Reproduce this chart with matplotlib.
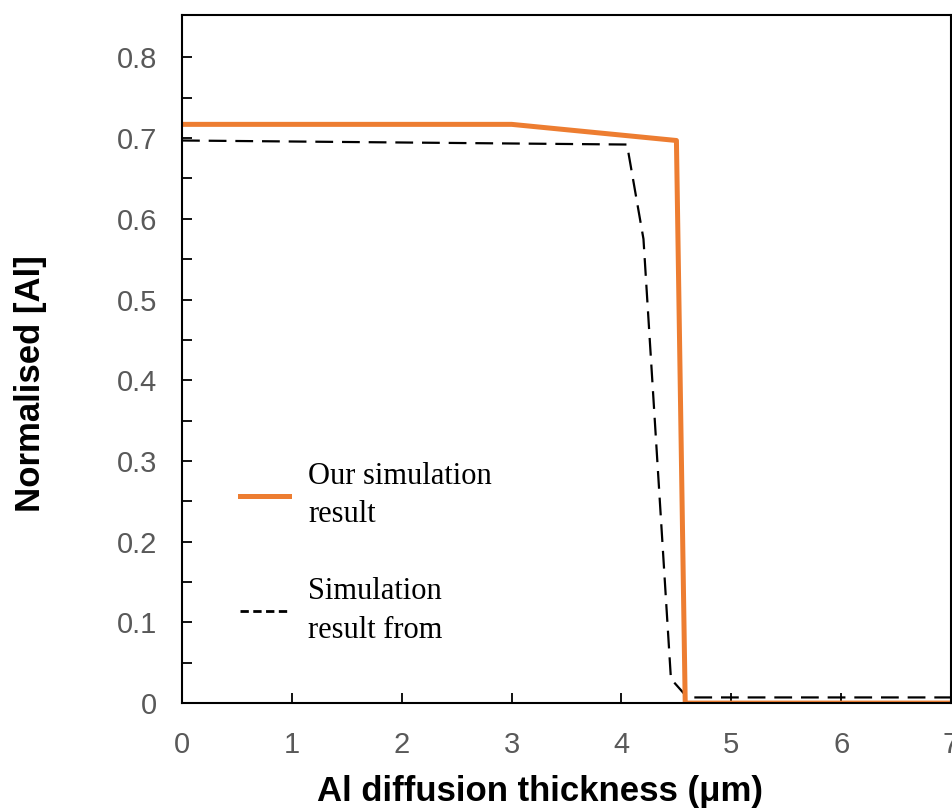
import numpy as np
import matplotlib
matplotlib.use('Agg')
import matplotlib.pyplot as plt
from matplotlib.ticker import FixedLocator, MultipleLocator
from matplotlib.lines import Line2D

# data
our_x = [0, 3.0, 4.5, 4.58, 7.0]
our_y = [0.717, 0.717, 0.697, 0.0, 0.0]

ref_x = [0, 4.05, 4.2, 4.45, 4.6, 7.0]
ref_y = [0.697, 0.692, 0.575, 0.03, 0.007, 0.007]

labels = ['Our simulation\nresult', 'Simulation\nresult from']
yticks = [0, 0.1, 0.2, 0.3, 0.4, 0.5, 0.6, 0.7, 0.8]
yminor = [0.05, 0.15, 0.25, 0.35, 0.45, 0.55, 0.65, 0.75]
orange = '#ED7D31'
grey = '#595959'

plt.rcParams['font.family'] = ['Liberation Sans', 'DejaVu Sans']

fig = plt.figure(figsize=(9.53, 8.10), dpi=100)
ax = fig.add_axes([0.191, 0.132, 0.807, 0.849])

ax.plot(ref_x, ref_y, color='black', lw=1.6, dashes=(8, 4), zorder=2)
ax.plot(our_x, our_y, color=orange, lw=3.6, zorder=2.1)

ax.set_xlim(0, 7)
ax.set_ylim(0, 0.852)
ax.xaxis.set_major_locator(MultipleLocator(1))
ax.yaxis.set_major_locator(FixedLocator(yticks))
ax.yaxis.set_minor_locator(FixedLocator(yminor))
ax.yaxis.set_major_formatter(plt.FuncFormatter(lambda v, p: '0' if abs(v) < 1e-9 else f'{v:.1f}'))

ax.tick_params(which='both', direction='in', length=7, width=1.3, colors='black',
               labelcolor=grey, labelsize=21, top=False, right=False)
ax.tick_params(axis='y', pad=18)
ax.tick_params(axis='x', pad=20)
for s in ax.spines.values():
    s.set_linewidth(1.5)

ax.set_xlabel('Al diffusion thickness (μm)', fontsize=25, fontweight='bold')
ax.set_ylabel('Normalised [Al]', fontsize=25, fontweight='bold')
ax.xaxis.set_label_coords(0.466, -0.104)
ax.yaxis.set_label_coords(-0.176, 0.465)

handles = [Line2D([], [], color=orange, lw=3.6),
           Line2D([], [], color='black', lw=2, dashes=(3, 1.6))]
leg = ax.legend(handles, labels, loc='center left', bbox_to_anchor=(0.075, 0.218),
                frameon=False, prop={'family': 'Liberation Serif', 'size': 22},
                handlelength=1.6, handletextpad=0.65, labelspacing=1.55,
                borderpad=0, borderaxespad=0)
for t in leg.get_texts():
    t.set_linespacing(1.45)

fig.savefig('out.png', dpi=100)
